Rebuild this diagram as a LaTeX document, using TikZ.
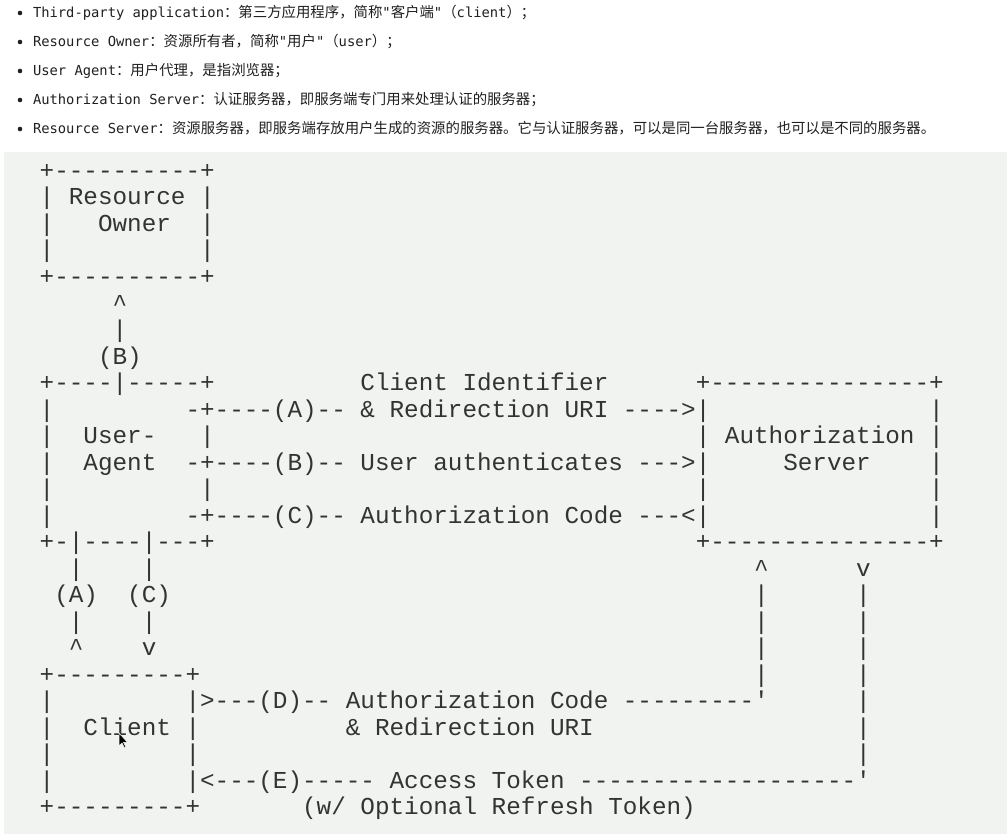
\documentclass[tikz,border=0pt]{standalone}
\usepackage{fontspec}
\setmonofont{Liberation Mono}
\newfontfamily\menlo{DejaVu Sans Mono}
\newfontfamily\cjk{Noto Sans CJK SC}
\usepackage{tikz}

\definecolor{codebg}{HTML}{F0F3EF}
\definecolor{codeink}{HTML}{333333}
\definecolor{listink}{HTML}{202020}
\newcommand\zh[1]{{\cjk\fontsize{14.4}{16}\selectfont #1}}

\begin{document}
\begin{tikzpicture}[x=1pt, y=-1pt,
  every node/.style={inner sep=0pt, outer sep=0pt, anchor=base west},
  item/.style={text=listink, font={\menlo\fontsize{13.8}{16}\selectfont}},
  code/.style={text=codeink, font={\ttfamily\fontsize{24.3}{26.5}\selectfont}}]
  \useasboundingbox (0,0) rectangle (1007,837);
  \fill[white] (0,0) rectangle (1007,837);

  % the five bullets
  \foreach \y in {13,42,71,100,129}
    \fill[listink] (20,\y) circle (2.3);
  \node[item] (b1) at (33,18) {Third-party application\zh{：第三方应用程序，简称}"\zh{客户端}"\zh{（}client\zh{）；}};
  \node[item] (b2) at (33,47) {Resource Owner\zh{：资源所有者，简称}"\zh{用户}"\zh{（}user\zh{）；}};
  \node[item] (b3) at (33,76) {User Agent\zh{：用户代理，是指浏览器；}};
  \node[item] (b4) at (33,105) {Authorization Server\zh{：认证服务器，即服务端专门用来处理认证的服务器；}};
  \node[item] (b5) at (33,134) {Resource Server\zh{：资源服务器，即服务端存放用户生成的资源的服务器。它与认证服务器，可以是同一台服务器，也可以是不同的服务器。}};

  % code block
  \fill[codebg] (4,152) rectangle (1007,834);
  \begin{scope}[shift={(25.13,152)}, x=14.58pt, y=-26.5pt]
    \foreach \r/\c/\t in {
      1/1/{+----------+},
      2/1/{| Resource |},
      3/1/|, 3/5/Owner, 3/12/|,
      4/1/|, 4/12/|,
      5/1/{+----------+},
      6/6/{\textasciicircum},
      7/6/|,
      8/5/(B),
      9/1/{+----|-----+}, 9/23/{Client Identifier}, 9/46/{+---------------+},
      10/1/|, 10/11/{-+----(A)-- \& Redirection URI ---->|}, 10/62/|,
      11/1/|, 11/4/User-, 11/12/|, 11/46/{| Authorization |},
      12/1/|, 12/4/Agent, 12/11/{-+----(B)-- User authenticates --->|}, 12/52/Server, 12/62/|,
      13/1/|, 13/12/|, 13/46/|, 13/62/|,
      14/1/|, 14/11/{-+----(C)-- Authorization Code ---<|}, 14/62/|,
      15/1/{+-|----|---+}, 15/46/{+---------------+},
      16/3/|, 16/8/|, 16/50/{\textasciicircum}, 16/57/v,
      17/2/(A), 17/7/(C), 17/50/|, 17/57/|,
      18/3/|, 18/8/|, 18/50/|, 18/57/|,
      19/3/{\textasciicircum}, 19/8/v, 19/50/|, 19/57/|,
      20/1/{+---------+}, 20/50/|, 20/57/|,
      21/1/|, 21/11/{|>---(D)-- Authorization Code ---------'}, 21/57/|,
      22/1/|, 22/4/Client, 22/11/|, 22/22/{\& Redirection URI}, 22/57/|,
      23/1/|, 23/11/|, 23/57/|,
      24/1/|, 24/11/{|<---(E)----- Access Token -------------------'},
      25/1/{+---------+}, 25/19/{(w/ Optional Refresh Token)}}
      \node[code] (t\r-\c) at (\c,\r) {\t};
  \end{scope}

  % mouse pointer
  \fill[black, draw=white, line width=0.5pt] (119,733) -- (119,746) -- (122,743)
    -- (124.5,748) -- (126,747.2) -- (123.6,742.4) -- (127.5,742.4) -- cycle;
\end{tikzpicture}
\end{document}
